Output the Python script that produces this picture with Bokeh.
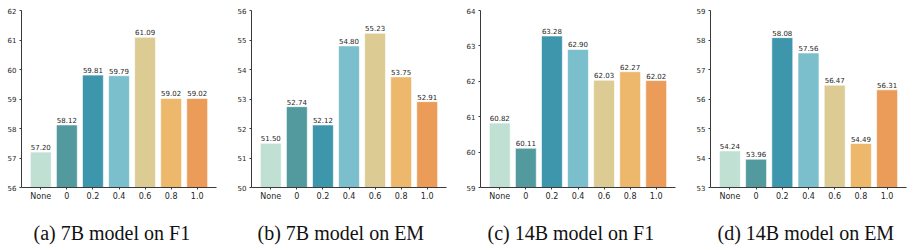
from bokeh.plotting import figure
from bokeh.layouts import row
from bokeh.models import ColumnDataSource, Range1d, FixedTicker, SingleIntervalTicker, Title
from bokeh.core.properties import value
from bokeh.embed import file_html
from bokeh.resources import INLINE

categories = ["None", "0", "0.2", "0.4", "0.6", "0.8", "1.0"]
colors = ["#c0e0d4", "#529a9e", "#3e96ad", "#7bbfcc", "#dccb93", "#edb76c", "#ea9c58"]

f1_7b = [57.20, 58.12, 59.81, 59.79, 61.09, 59.02, 59.02]
em_7b = [51.50, 52.74, 52.12, 54.80, 55.23, 53.75, 52.91]
f1_14b = [60.82, 60.11, 63.28, 62.90, 62.03, 62.27, 62.02]
em_14b = [54.24, 53.96, 58.08, 57.56, 56.47, 54.49, 56.31]

captions = ["(a) 7B model on F1", "(b) 7B model on EM", "(c) 14B model on F1", "(d) 14B model on EM"]
y_limits = [(56, 62), (50, 56), (59, 64), (53, 59)]
series = [f1_7b, em_7b, f1_14b, em_14b]

# layout: (width, left border, right border, caption left offset)
geoms = [(230, 21, 14, 12), (224, 21, 8, 6), (231, 26, 10, 7), (228, 25, 7, 7)]

TXT = "#262626"
AX = "#3a3a3a"

figs = []
for vals, cap, (y0, y1), (w, bl, br, off) in zip(series, captions, y_limits, geoms):
    xs = list(range(len(categories)))
    src = ColumnDataSource(dict(x=xs, top=vals, color=colors,
                                label=["%.2f" % v for v in vals]))
    p = figure(width=w, height=250, output_backend="svg", toolbar_location=None,
               x_range=Range1d(-0.74, len(categories) - 1 + 0.74),
               y_range=Range1d(y0, y1),
               min_border_left=bl, min_border_right=br,
               min_border_top=10, min_border_bottom=63)
    p.vbar(x="x", top="top", bottom=y0, width=0.8, fill_color="color",
           line_color="white", line_width=0.6, source=src)
    p.text(x="x", y="top", text="label", source=src, text_align="center",
           text_baseline="bottom", y_offset=-2, text_font=value("DejaVu Sans"),
           text_font_size="7px", text_color=TXT)
    p.outline_line_color = None
    p.grid.visible = False
    p.background_fill_color = "white"
    p.border_fill_color = "white"

    xa = p.xaxis[0]
    xa.ticker = FixedTicker(ticks=xs)
    xa.major_label_overrides = {i: c for i, c in enumerate(categories)}
    xa.major_label_text_font = "DejaVu Sans"
    xa.major_label_text_font_size = "8px"
    xa.major_label_text_color = TXT
    xa.major_label_standoff = 2
    xa.major_tick_out = 2
    xa.major_tick_in = 0
    xa.minor_tick_out = 0
    xa.minor_tick_in = 0
    xa.axis_line_color = AX
    xa.major_tick_line_color = AX
    # invisible spacer label pushes the caption down
    xa.axis_label = " "
    xa.axis_label_text_font_size = "1px"
    xa.axis_label_standoff = 12

    t = Title(text=cap, align="left", offset=off, standoff=0,
              text_font="Liberation Serif", text_font_style="normal",
              text_font_size="20px", text_color="#111111")
    p.add_layout(t, "below")

    ya = p.yaxis[0]
    ya.ticker = SingleIntervalTicker(interval=1)
    ya.major_label_text_font = "DejaVu Sans"
    ya.major_label_text_font_size = "7px"
    ya.major_label_text_color = TXT
    ya.major_label_standoff = 3
    ya.major_tick_out = 2
    ya.major_tick_in = 0
    ya.minor_tick_out = 0
    ya.minor_tick_in = 0
    ya.axis_line_color = AX
    ya.major_tick_line_color = AX
    figs.append(p)

layout = row(*figs, spacing=0)
open("out.html", "w").write(file_html(layout, INLINE))
